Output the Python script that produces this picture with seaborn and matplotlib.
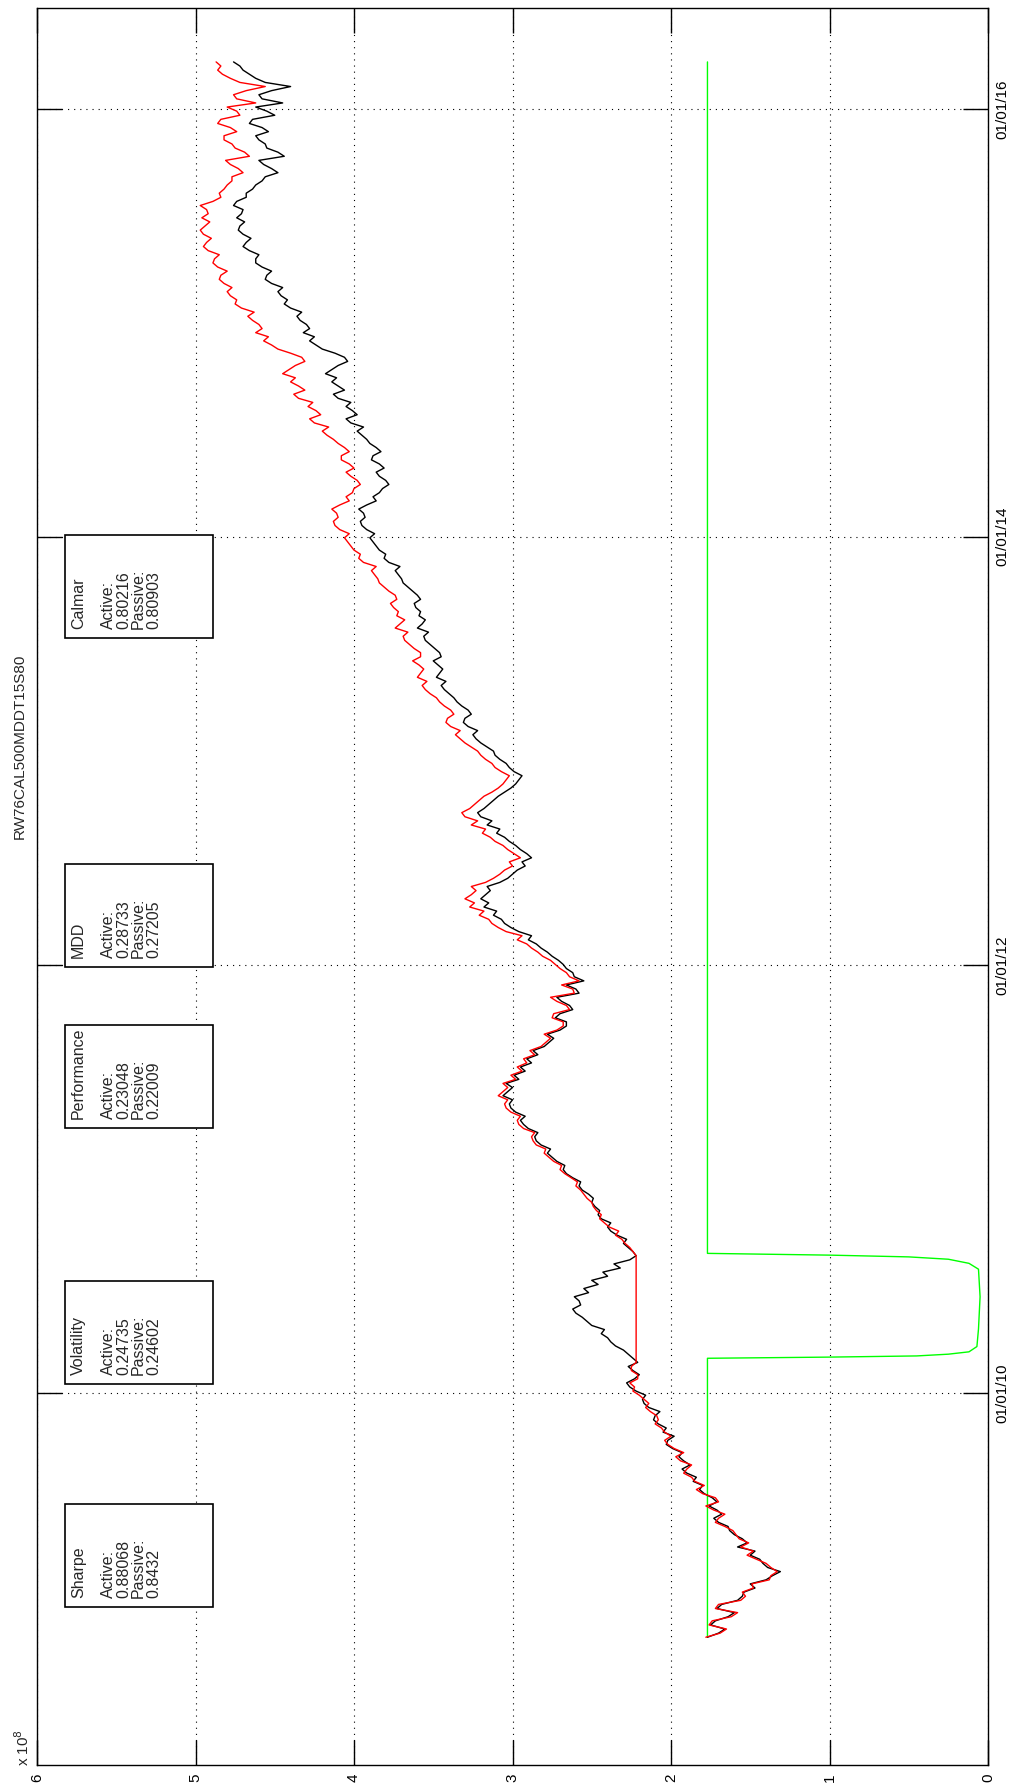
import numpy as np
import pandas as pd
import matplotlib
matplotlib.use("Agg")
import matplotlib.pyplot as plt
from matplotlib.patches import Rectangle
import seaborn as sns

# ---- data (portfolio value, x 1e8, one reading per week) ----------------
start_date = "2008-11-10"
step_days = 7

passive = [
    1.77, 1.70, 1.66, 1.75, 1.72, 1.64, 1.60, 1.71, 1.68, 1.58,
    1.55, 1.54, 1.47, 1.50, 1.40, 1.36, 1.31, 1.39, 1.42, 1.44,
    1.50, 1.47, 1.58, 1.52, 1.55, 1.60, 1.63, 1.64, 1.70, 1.73,
    1.68, 1.71, 1.76, 1.71, 1.74, 1.79, 1.82, 1.80, 1.86, 1.84,
    1.90, 1.93, 1.88, 1.92, 1.95, 1.93, 1.99, 2.03, 2.02, 1.98,
    2.05, 2.03, 2.08, 2.11, 2.10, 2.07, 2.14, 2.17, 2.18, 2.16,
    2.22, 2.26, 2.28, 2.23, 2.20, 2.24, 2.27, 2.21, 2.24, 2.27,
    2.30, 2.35, 2.38, 2.40, 2.44, 2.42, 2.50, 2.53, 2.56, 2.60,
    2.62, 2.57, 2.58, 2.61, 2.52, 2.55, 2.46, 2.50, 2.40, 2.43,
    2.32, 2.36, 2.26, 2.22, 2.24, 2.27, 2.30, 2.28, 2.34, 2.38,
    2.40, 2.38, 2.44, 2.46, 2.45, 2.48, 2.50, 2.49, 2.52, 2.56,
    2.58, 2.57, 2.62, 2.66, 2.68, 2.67, 2.72, 2.75, 2.78, 2.76,
    2.82, 2.85, 2.86, 2.84, 2.90, 2.93, 2.95, 2.92, 2.98, 3.01,
    3.02, 3.00, 3.06, 3.03, 3.00, 3.04, 2.96, 2.99, 2.92, 2.95,
    2.88, 2.91, 2.84, 2.87, 2.80, 2.77, 2.74, 2.78, 2.70, 2.66,
    2.66, 2.73, 2.70, 2.62, 2.64, 2.69, 2.72, 2.58, 2.60, 2.66,
    2.55, 2.61, 2.62, 2.66, 2.68, 2.71, 2.75, 2.78, 2.82, 2.85,
    2.90, 2.88, 2.96, 3.01, 3.05, 3.07, 3.12, 3.10, 3.18, 3.15,
    3.20, 3.17, 3.14, 3.16, 3.08, 3.03, 3.00, 2.97, 2.92, 2.94,
    2.88, 2.91, 2.95, 2.98, 3.02, 3.05, 3.10, 3.08, 3.16, 3.13,
    3.20, 3.22, 3.18, 3.15, 3.12, 3.09, 3.05, 3.01, 2.98, 2.96,
    2.94, 2.99, 3.02, 3.04, 3.08, 3.11, 3.12, 3.16, 3.20, 3.23,
    3.25, 3.22, 3.28, 3.31, 3.30, 3.26, 3.28, 3.32, 3.35, 3.37,
    3.40, 3.43, 3.45, 3.42, 3.48, 3.46, 3.44, 3.47, 3.50, 3.45,
    3.46, 3.49, 3.52, 3.55, 3.56, 3.53, 3.60, 3.57, 3.55, 3.59,
    3.58, 3.61, 3.62, 3.58, 3.60, 3.63, 3.66, 3.69, 3.70, 3.72,
    3.74, 3.71, 3.78, 3.81, 3.80, 3.84, 3.86, 3.88, 3.90, 3.87,
    3.92, 3.95, 3.96, 3.93, 3.94, 3.97, 3.92, 3.86, 3.88, 3.84,
    3.82, 3.78, 3.80, 3.84, 3.86, 3.81, 3.84, 3.89, 3.88, 3.83,
    3.86, 3.90, 3.92, 3.95, 3.98, 3.94, 4.02, 4.05, 3.98, 4.01,
    4.05, 4.02, 4.10, 4.13, 4.06, 4.10, 4.14, 4.11, 4.18, 4.14,
    4.10, 4.04, 4.06, 4.12, 4.20, 4.24, 4.28, 4.25, 4.32, 4.28,
    4.30, 4.34, 4.36, 4.33, 4.40, 4.44, 4.42, 4.46, 4.48, 4.45,
    4.52, 4.56, 4.55, 4.52, 4.58, 4.62, 4.62, 4.60, 4.66, 4.70,
    4.68, 4.65, 4.70, 4.73, 4.72, 4.69, 4.74, 4.71, 4.70, 4.76,
    4.74, 4.68, 4.68, 4.64, 4.62, 4.58, 4.56, 4.48, 4.52, 4.57,
    4.60, 4.44, 4.48, 4.55, 4.56, 4.60, 4.62, 4.54, 4.58, 4.66,
    4.64, 4.50, 4.55, 4.62, 4.45, 4.58, 4.60, 4.52, 4.40, 4.56,
    4.62, 4.66, 4.70, 4.72, 4.76]

active = [
    1.78, 1.69, 1.65, 1.76, 1.74, 1.62, 1.58, 1.72, 1.70, 1.56,
    1.53, 1.55, 1.48, 1.49, 1.38, 1.37, 1.33, 1.37, 1.40, 1.46,
    1.52, 1.48, 1.56, 1.51, 1.57, 1.59, 1.61, 1.66, 1.72, 1.70,
    1.66, 1.73, 1.78, 1.70, 1.72, 1.80, 1.84, 1.79, 1.85, 1.87,
    1.92, 1.90, 1.87, 1.94, 1.97, 1.92, 1.98, 2.02, 2.04, 2.00,
    2.04, 2.06, 2.10, 2.08, 2.09, 2.13, 2.16, 2.14, 2.17, 2.20,
    2.24, 2.23, 2.26, 2.21, 2.21, 2.25, 2.25, 2.22, 2.22, 2.22,
    2.22, 2.22, 2.22, 2.22, 2.22, 2.22, 2.22, 2.22, 2.22, 2.22,
    2.22, 2.22, 2.22, 2.22, 2.22, 2.22, 2.22, 2.22, 2.22, 2.22,
    2.22, 2.22, 2.22, 2.22, 2.24, 2.26, 2.29, 2.31, 2.35, 2.33,
    2.39, 2.42, 2.45, 2.44, 2.47, 2.49, 2.50, 2.53, 2.55, 2.57,
    2.60, 2.59, 2.63, 2.67, 2.70, 2.69, 2.74, 2.77, 2.80, 2.79,
    2.85, 2.87, 2.88, 2.86, 2.93, 2.96, 2.97, 2.95, 3.01, 3.04,
    3.05, 3.03, 3.09, 3.06, 3.03, 3.06, 2.98, 3.01, 2.94, 2.97,
    2.91, 2.93, 2.86, 2.89, 2.82, 2.79, 2.76, 2.80, 2.72, 2.68,
    2.68, 2.75, 2.74, 2.64, 2.66, 2.72, 2.76, 2.61, 2.62, 2.69,
    2.58, 2.64, 2.66, 2.70, 2.73, 2.76, 2.81, 2.84, 2.88, 2.91,
    2.97, 2.94, 3.04, 3.09, 3.13, 3.15, 3.21, 3.18, 3.27, 3.24,
    3.30, 3.26, 3.23, 3.26, 3.17, 3.12, 3.08, 3.05, 3.00, 3.02,
    2.95, 2.99, 3.03, 3.06, 3.11, 3.14, 3.19, 3.17, 3.26, 3.22,
    3.30, 3.32, 3.27, 3.24, 3.21, 3.18, 3.13, 3.09, 3.06, 3.04,
    3.02, 3.07, 3.11, 3.13, 3.17, 3.20, 3.22, 3.26, 3.30, 3.33,
    3.36, 3.33, 3.39, 3.42, 3.41, 3.37, 3.39, 3.43, 3.46, 3.48,
    3.52, 3.55, 3.57, 3.54, 3.60, 3.58, 3.56, 3.59, 3.63, 3.58,
    3.58, 3.62, 3.65, 3.68, 3.69, 3.66, 3.74, 3.71, 3.68, 3.73,
    3.72, 3.75, 3.77, 3.73, 3.74, 3.78, 3.81, 3.84, 3.85, 3.87,
    3.89, 3.86, 3.94, 3.97, 3.96, 4.00, 4.02, 4.04, 4.06, 4.03,
    4.09, 4.12, 4.13, 4.10, 4.11, 4.14, 4.09, 4.03, 4.05, 4.01,
    4.00, 3.96, 3.98, 4.02, 4.05, 4.00, 4.03, 4.08, 4.08, 4.03,
    4.06, 4.10, 4.13, 4.17, 4.20, 4.16, 4.25, 4.28, 4.21, 4.24,
    4.29, 4.26, 4.35, 4.38, 4.31, 4.35, 4.40, 4.37, 4.45, 4.41,
    4.37, 4.31, 4.33, 4.40, 4.48, 4.52, 4.57, 4.54, 4.62, 4.58,
    4.60, 4.64, 4.67, 4.63, 4.71, 4.75, 4.74, 4.78, 4.80, 4.77,
    4.82, 4.85, 4.84, 4.80, 4.86, 4.89, 4.88, 4.85, 4.92, 4.95,
    4.93, 4.90, 4.95, 4.97, 4.94, 4.91, 4.96, 4.92, 4.93, 4.97,
    4.89, 4.84, 4.85, 4.82, 4.80, 4.77, 4.77, 4.70, 4.73, 4.78,
    4.81, 4.66, 4.69, 4.75, 4.77, 4.82, 4.82, 4.74, 4.78, 4.86,
    4.84, 4.72, 4.74, 4.80, 4.62, 4.74, 4.76, 4.68, 4.56, 4.72,
    4.78, 4.83, 4.86, 4.84, 4.87]

exposure_dates = ["2008-11-10", "2010-03-01", "2010-03-03", "2010-03-05",
                  "2010-03-08", "2010-03-12", "2010-03-21", "2010-04-20",
                  "2010-06-14", "2010-07-31", "2010-08-10", "2010-08-17",
                  "2010-08-21", "2010-08-24", "2010-08-27", "2016-03-21"]
exposure = [1.77, 1.77, 1.00, 0.45, 0.25, 0.12, 0.07, 0.06,
            0.05, 0.06, 0.12, 0.25, 0.50, 1.00, 1.77, 1.77]

value_ticks = [0, 1, 2, 3, 4, 5, 6]
date_ticks = ["2010-01-01", "2012-01-01", "2014-01-01", "2016-01-01"]
date_tick_labels = ["01/01/10", "01/01/12", "01/01/14", "01/01/16"]

title_text = "RW76CAL500MDDT15S80"
stats = [
    ("Sharpe", "0.88068", "0.8432"),
    ("Volatility", "0.24735", "0.24602"),
    ("Performance", "0.23048", "0.22009"),
    ("MDD", "0.28733", "0.27205"),
    ("Calmar", "0.80216", "0.80903"),
]

# ---- frames -----------------------------------------------------------
dates = pd.Timestamp(start_date) + pd.to_timedelta(
    np.arange(len(passive)) * step_days, unit="D")
curves = pd.DataFrame({"date": dates, "passive": passive, "active": active})
expo = pd.DataFrame({"date": pd.to_datetime(exposure_dates), "value": exposure})

# ---- style ------------------------------------------------------------
sns.set_theme(style="white")
plt.rcParams["font.family"] = ["Liberation Sans", "DejaVu Sans"]
plt.rcParams["font.size"] = 11

W, H = 1010, 1786
fig = plt.figure(figsize=(W / 100, H / 100), dpi=100)
fig.patch.set_facecolor("white")

# the chart is laid out sideways: values run right-to-left, time runs upward
ax_l, ax_r, ax_t, ax_b = 37, 988, 8, 1765
ax = fig.add_axes([ax_l / W, 1 - ax_b / H, (ax_r - ax_l) / W, (ax_b - ax_t) / H])
ax.set_facecolor("white")

sns.lineplot(data=expo, x="value", y="date", orient="y", sort=False,
             estimator=None, color="#00ff00", lw=1.0, ax=ax)
sns.lineplot(data=curves, x="passive", y="date", orient="y", sort=False,
             estimator=None, color="black", lw=1.0, ax=ax)
sns.lineplot(data=curves, x="active", y="date", orient="y", sort=False,
             estimator=None, color="red", lw=1.0, ax=ax)

ax.set_xlim(6, 0)
ax.set_ylim(pd.Timestamp("2008-04-06"), pd.Timestamp("2016-06-21"))
ax.set_xlabel("")
ax.set_ylabel("")

ax.set_xticks(value_ticks)
ax.set_xticklabels([str(v) for v in value_ticks], rotation=90, va="top")
ax.set_yticks(pd.to_datetime(date_ticks))
ax.set_yticklabels(date_tick_labels, rotation=90, va="center")
ax.tick_params(axis="both", direction="in", length=18, width=1.0,
               colors="black", top=True, bottom=True, left=True, right=True,
               labelleft=False, labelright=True, labelbottom=True,
               labelsize=11)
ax.tick_params(axis="x", pad=6)
ax.tick_params(axis="y", pad=5)

ax.grid(True, color="black", lw=0.8, linestyle=(0, (1, 4.5)))
for sp in ax.spines.values():
    sp.set_color("black")
    sp.set_linewidth(1.0)

# exponent marker at the lower-left corner
fig.text(23 / W, 1 - 1748 / H, r"x 10$^{8}$", rotation=90,
         ha="center", va="center", fontsize=11)

# title
fig.text(20 / W, 1 - 746 / H, title_text, rotation=90,
         ha="center", va="center", fontsize=11)

# statistic boxes
box_bottoms = [1607, 1384, 1128, 967, 638]
box_x0, box_w, box_h = 65, 148, 103
for (name, a, p), bb in zip(stats, box_bottoms):
    fig.patches.append(Rectangle((box_x0 / W, 1 - bb / H), box_w / W, box_h / H,
                                 transform=fig.transFigure, facecolor="white",
                                 edgecolor="black", lw=1.2, zorder=5))
    fig.text((box_x0 + 6) / W, 1 - (bb - 9) / H,
             f"{name}\n\nActive:\n{a}\nPassive:\n{p}",
             rotation=90, ha="left", va="bottom", fontsize=11.5,
             linespacing=1.0, zorder=6)

fig.savefig("out.png", dpi=100, facecolor="white")
